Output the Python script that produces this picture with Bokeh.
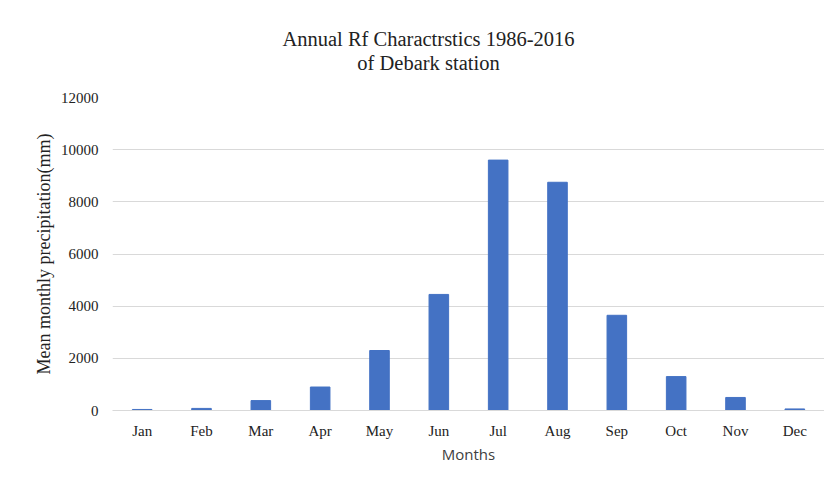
from bokeh.plotting import figure
from bokeh.models import Label, Range1d, ColumnDataSource
from bokeh.layouts import column
from bokeh.embed import file_html
from bokeh.resources import INLINE

months = ["Jan", "Feb", "Mar", "Apr", "May", "Jun", "Jul", "Aug", "Sep", "Oct", "Nov", "Dec"]
rainfall = [40, 80, 380, 900, 2300, 4450, 9600, 8750, 3650, 1300, 500, 60]
y_ticks = [0, 2000, 4000, 6000, 8000, 10000, 12000]

title_line1 = "Annual Rf Charactrstics 1986-2016"
title_line2 = "of Debark station"

serif = "Liberation Serif"
W = 824
TOP_H = 87

# title strip (text only)
t = figure(width=W, height=TOP_H, output_backend="svg", toolbar_location=None,
           x_axis_type=None, y_axis_type=None, x_range=Range1d(0, 1), y_range=Range1d(0, 1),
           min_border=0)
t.outline_line_color = None
t.xgrid.grid_line_color = None
t.ygrid.grid_line_color = None
for txt, yy in [(title_line1, TOP_H - 38), (title_line2, TOP_H - 62)]:
    t.add_layout(Label(x=316, y=yy, x_units="screen", y_units="screen", text=txt,
                       text_align="center", text_baseline="middle", text_font=serif,
                       text_font_size="20.5px", text_color="#222222"))

src = ColumnDataSource(dict(m=months, v=rainfall))

p = figure(x_range=months, y_range=Range1d(0, 12000), width=W, height=472 - TOP_H,
           output_backend="svg", toolbar_location=None,
           min_border_left=112, min_border_right=0, min_border_bottom=62, min_border_top=10)

p.vbar(x="m", top="v", width=0.33, source=src, color="#4472C4")

p.outline_line_color = None
p.xgrid.grid_line_color = None
p.ygrid.grid_line_color = "#d9d9d9"
p.yaxis.ticker = y_ticks

p.yaxis.axis_line_color = None
p.yaxis.major_tick_line_color = None
p.yaxis.minor_tick_line_color = None
p.yaxis.major_label_text_font = serif
p.yaxis.major_label_text_font_size = "15px"
p.yaxis.major_label_text_color = "#222222"
p.yaxis.major_label_standoff = 8
p.yaxis.axis_label = "Mean monthly precipitation(mm)"
p.yaxis.axis_label_text_font = serif
p.yaxis.axis_label_text_font_size = "18px"
p.yaxis.axis_label_text_font_style = "normal"
p.yaxis.axis_label_text_color = "#222222"
p.yaxis.axis_label_standoff = 4

p.xaxis.axis_line_color = "#d9d9d9"
p.xaxis.major_tick_line_color = None
p.xaxis.minor_tick_line_color = None
p.xaxis.major_label_text_font = serif
p.xaxis.major_label_text_font_size = "15px"
p.xaxis.major_label_text_color = "#222222"
p.xaxis.major_label_standoff = 6
p.xaxis.axis_label = "Months"
p.xaxis.axis_label_text_font = "Open Sans"
p.xaxis.axis_label_text_font_size = "15px"
p.xaxis.axis_label_text_font_style = "normal"
p.xaxis.axis_label_text_color = "#404040"
p.xaxis.axis_label_standoff = 2

p.x_range.range_padding = 0

layout = column(t, p, spacing=0)
open("out.html", "w").write(file_html(layout, INLINE))
